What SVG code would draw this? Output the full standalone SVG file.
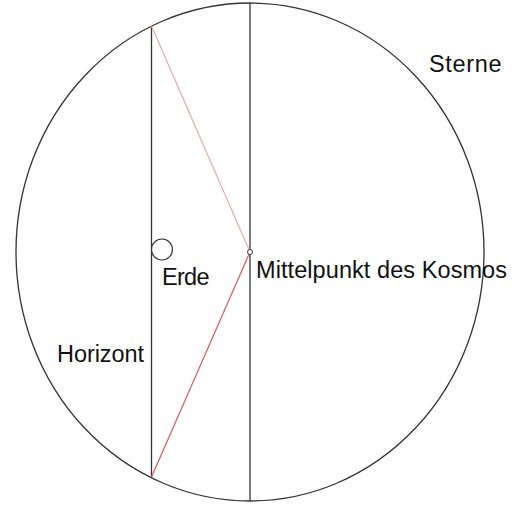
<svg xmlns="http://www.w3.org/2000/svg" width="514" height="527" viewBox="0 0 514 527">
<style>
.bg{fill:#ffffff}
.ln{stroke:#333333;stroke-width:1.3;fill:none}
.lbl{font-family:"Liberation Sans",Arial,sans-serif;font-size:23.5px;fill:#111111}
</style>
<rect class="bg" x="0" y="0" width="514" height="527"/>
<g id="sterne">
<ellipse class="ln" cx="250" cy="252" rx="234" ry="249"/>
<text class="lbl" x="429" y="72" textLength="72.5">Sterne</text>
</g>
<g id="connectors">
<line class="ln" x1="250" y1="3" x2="250" y2="501"/>
<line class="ln" x1="151.5" y1="26" x2="151.5" y2="477"/>
<line x1="151.5" y1="26" x2="250" y2="252" stroke="#f0a8a8" stroke-width="1.2"/>
<line x1="250" y1="252" x2="151.5" y2="477" stroke="#e05858" stroke-width="1.2"/>
</g>
<g id="mittelpunkt">
<circle cx="250" cy="252" r="2.5" fill="#ffffff" stroke="#553333" stroke-width="1"/>
<text class="lbl" x="256" y="278" textLength="251">Mittelpunkt des Kosmos</text>
</g>
<g id="erde">
<circle cx="162" cy="249.5" r="10.5" fill="#ffffff" stroke="#333333" stroke-width="1.2"/>
<text class="lbl" x="162" y="285" textLength="47.5">Erde</text>
</g>
<g id="horizont">
<text class="lbl" x="57" y="362" textLength="87">Horizont</text>
</g>
</svg>
